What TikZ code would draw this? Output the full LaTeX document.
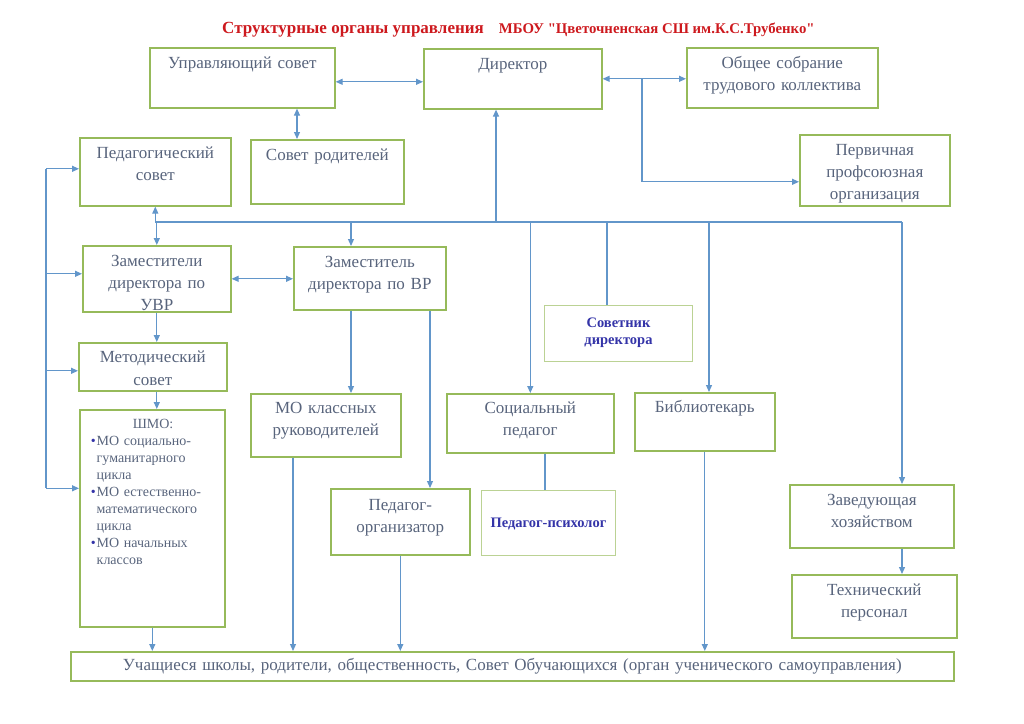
\documentclass[tikz,border=0pt]{standalone}
\usepackage{fontspec}
\setmainfont{Liberation Serif}
\newfontfamily\titlefont{Liberation Serif}
\usetikzlibrary{arrows.meta}
\definecolor{boxgreen}{RGB}{150,186,90}
\definecolor{linkblue}{RGB}{98,150,202}
\definecolor{txtgray}{RGB}{88,100,124}
\definecolor{boldblue}{RGB}{52,52,168}
\definecolor{titlered}{RGB}{205,25,30}
\tikzset{
	chart/.style={x=1pt,y=-1pt,>={Triangle[length=7pt,width=6pt]}},
	unit/.style={draw=boxgreen,line width=1.6pt,text=txtgray,align=center,anchor=north west,
		inner xsep=2pt,inner ysep=0pt,text height=21pt,font=\fontsize{17}{22}\selectfont},
	faint/.style={unit,draw=boxgreen!65,line width=1pt,text=boldblue,
		font=\bfseries\fontsize{14.5}{17}\selectfont},
	link/.style={color=linkblue,line width=1.2pt},
	title/.style={text=titlered,font=\titlefont\bfseries,anchor=base west,inner sep=0pt}
}

\begin{document}
\begin{tikzpicture}[chart]
	\useasboundingbox (0,0) rectangle (1024,723);
	
	\node[title] (ttl) at (222,33) {{\fontsize{17}{19}\selectfont Структурные органы управления}\hspace{15pt}{\fontsize{14.8}{17}\selectfont МБОУ "Цветочненская СШ им.К.С.Трубенко"}};
	
	\node[unit,text width=181pt,text depth=39pt] (upr) at (149,47) {Управляющий совет};
	\node[unit,text width=174pt,text depth=39pt] (dir) at (423,48) {Директор};
	\node[unit,text width=187pt,text depth=39pt] (obsh) at (686,47) {Общее собрание\\трудового коллектива};
	\node[unit,text width=146pt,text depth=50pt] (perv) at (799,134) {Первичная\\профсоюзная\\организация};
	\node[unit,text width=147pt,text depth=47pt] (ped) at (79,137) {Педагогический\\совет};
	\node[unit,text width=149pt,text depth=43pt] (rod) at (250,139) {Совет родителей};
	\node[unit,text width=144pt,text depth=45pt] (zuvr) at (82,245) {Заместители\\директора по\\УВР};
	\node[unit,text width=148pt,text depth=42pt] (zvr) at (293,246) {Заместитель\\директора по ВР};
	\node[unit,text width=144pt,text height=20pt,text depth=28pt,font=\fontsize{17}{23}\selectfont] (met) at (78,342) {Методический\\совет};
	\node[unit,text width=141pt,text height=19pt,text depth=198pt,align=left,font=\fontsize{14}{17}\selectfont] (shmo) at (79,409) {%
		\begin{tabular}[t]{@{\hspace{9pt}}c@{\hspace{1pt}}l@{}}
			\multicolumn{2}{@{\hspace{9pt}}l@{}}{\hspace{42pt}ШМО:}\\
			{\color{boldblue}\textbullet}&МО социально-\\
			&гуманитарного\\
			&цикла\\
			{\color{boldblue}\textbullet}&МО естественно-\\
			&математического\\
			&цикла\\
			{\color{boldblue}\textbullet}&МО начальных\\
			&классов
		\end{tabular}};
	\node[unit,text width=146pt,text height=20pt,text depth=43pt] (mokl) at (250,393) {МО классных\\руководителей};
	\node[unit,text width=135pt,text height=22pt,text depth=44pt] (porg) at (330,488) {Педагог-\\организатор};
	\node[faint,text width=144pt,text height=22pt,text depth=34pt] (sov) at (544,305) {Советник\\директора};
	\node[unit,text width=163pt,text height=20pt,text depth=39pt] (socp) at (446,393) {Социальный\\педагог};
	\node[faint,text width=130pt,text height=37pt,text depth=28pt] (psy) at (481,490) {Педагог-психолог};
	\node[unit,text width=136pt,text height=20pt,text depth=38pt] (bib) at (634,392) {Библиотекарь};
	\node[unit,text width=160pt,text depth=42pt] (zav) at (789,484) {Заведующая\\хозяйством};
	\node[unit,text width=161pt,text depth=42pt] (tech) at (791,574) {Технический\\персонал};
	\node[unit,text width=879pt,text height=19pt,text depth=10pt] (bot) at (70,651) {Учащиеся школы, родители, общественность, Совет Обучающихся (орган ученического самоуправления)};
	
	\coordinate (bus) at (0,222);
	\coordinate (fb) at (46,0);
	\coordinate (split) at (642,78);
	\coordinate (ur) at (297,0);
	\coordinate (dUp) at (496,0);
	\coordinate (dVr) at (351,0);
	\coordinate (dOrg) at (430,0);
	\coordinate (dKl) at (293,0);
	\coordinate (dSov) at (607,0);
	\coordinate (dPsy) at (545,0);
	\coordinate (dBib) at (709,0);
	\coordinate (dZav) at (902,0);
	\coordinate (pedIn) at ([yshift=3pt]ped.west);
	\coordinate (zuvrIn) at ([yshift=5pt]zuvr.west);
	\coordinate (metIn) at ([yshift=-4pt]met.west);
	\coordinate (shmoIn) at ([yshift=30pt]shmo.west);
	
	\path[link,<->] ([yshift=-4pt]upr.east) edge ([yshift=-3pt]dir.west)
		(dir.east) edge (dir.east -| obsh.west)
		(ur |- upr.south) edge (ur |- rod.north)
		(zuvr.east) edge (zuvr.east -| zvr.west);
	\draw[link,->] (split) |- ([yshift=-11.5pt]perv.west);
	\draw[link] (ped.south |- bus) -- (dZav |- bus);
	\draw[link] (fb |- pedIn) -- (fb |- shmoIn);
	
	\path[link,->] (dUp |- bus) edge (dUp |- dir.south)
		(ped.south |- bus) edge (ped.south)
		(zuvr.north |- bus) edge (zuvr.north)
		(dVr |- bus) edge (dVr |- zvr.north)
		(socp.north |- bus) edge (socp.north)
		(dBib |- bus) edge (dBib |- bib.north)
		(dZav |- bus) edge (dZav |- zav.north);
	\path[link] (dSov |- bus) edge (dSov |- sov.north)
		(dPsy |- socp.south) edge (dPsy |- psy.north);
	
	\path[link,->] (fb |- pedIn) edge (pedIn)
		(fb |- zuvrIn) edge (zuvrIn)
		(fb |- metIn) edge (metIn)
		(fb |- shmoIn) edge (shmoIn)
		(zuvr.south) edge (zuvr.south |- met.north)
		(zuvr.south |- met.south) edge (zuvr.south |- shmo.north)
		(shmo.south) edge (shmo.south |- bot.north)
		(dVr |- zvr.south) edge (dVr |- mokl.north)
		(dOrg |- zvr.south) edge (dOrg |- porg.north)
		(dKl |- mokl.south) edge (dKl |- bot.north)
		(porg.south) edge (porg.south |- bot.north)
		(bib.south) edge (bib.south |- bot.north)
		(dZav |- zav.south) edge (dZav |- tech.north);
	
\end{tikzpicture}
\end{document}
